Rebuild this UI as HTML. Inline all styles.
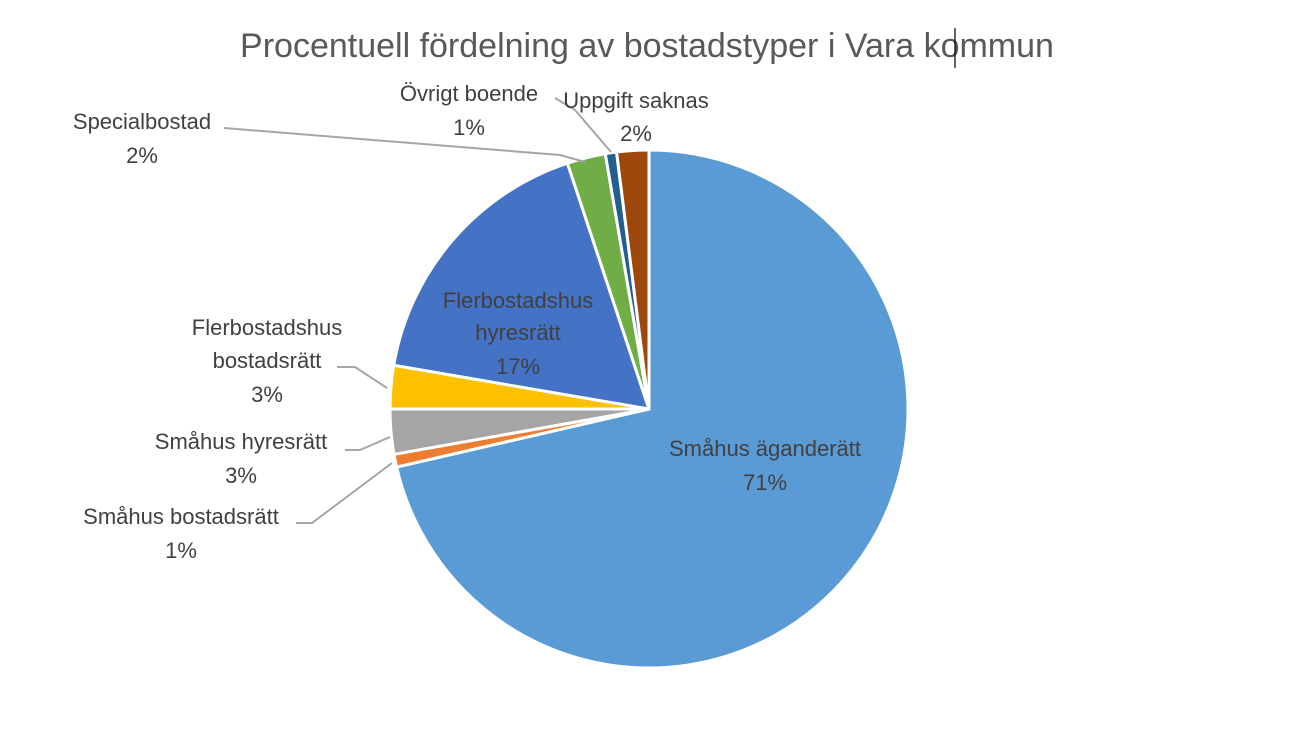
<!DOCTYPE html>
<html><head><meta charset="utf-8"><style>
body{margin:0;background:#fff;}
svg text{font-family:"Liberation Sans",sans-serif;fill:#404040;}
</style></head><body>
<svg width="1296" height="743" viewBox="0 0 1296 743">
<text x="647" y="57" font-size="34" text-anchor="middle" style="fill:#595959">Procentuell fördelning av bostadstyper i Vara kommun</text>
<line x1="955" y1="28" x2="955" y2="68" stroke="#000" stroke-width="1.2"/>
<g id="slices"></g>
<g id="leaders" fill="none" stroke="#A6A6A6" stroke-width="2">
<polyline points="224,128 560,155 585,162"/>
<polyline points="555,98 575,110 611,152"/>
<polyline points="337,367 355,367 387,388"/>
<polyline points="345,450 360,450 390,437"/>
<polyline points="296,523 312,523 392,463"/>
</g>
<g font-size="22" text-anchor="middle" id="labels">
<text><tspan x="765" y="456">Småhus äganderätt</tspan><tspan x="765" y="490">71%</tspan></text>
<text><tspan x="518" y="308">Flerbostadshus</tspan><tspan x="518" y="340">hyresrätt</tspan><tspan x="518" y="374">17%</tspan></text>
<text><tspan x="267" y="335">Flerbostadshus</tspan><tspan x="267" y="368">bostadsrätt</tspan><tspan x="267" y="402">3%</tspan></text>
<text><tspan x="241" y="449">Småhus hyresrätt</tspan><tspan x="241" y="483">3%</tspan></text>
<text><tspan x="181" y="524">Småhus bostadsrätt</tspan><tspan x="181" y="558">1%</tspan></text>
<text><tspan x="142" y="129">Specialbostad</tspan><tspan x="142" y="163">2%</tspan></text>
<text><tspan x="469" y="101">Övrigt boende</tspan><tspan x="469" y="135">1%</tspan></text>
<text><tspan x="636" y="108">Uppgift saknas</tspan><tspan x="636" y="141">2%</tspan></text>
</g>
</svg>
<script>
const categories=["Småhus äganderätt","Småhus bostadsrätt","Småhus hyresrätt","Flerbostadshus bostadsrätt","Flerbostadshus hyresrätt","Specialbostad","Övrigt boende","Uppgift saknas"];
const values=[71.4,0.8,2.8,2.7,17.2,2.4,0.7,2.0];
const colors=["#5B9BD5","#ED7D31","#A5A5A5","#FFC000","#4472C4","#70AD47","#255E91","#9E480E"];
const cx=649,cy=409,r=259;
const g=document.getElementById('slices');
const total=values.reduce((a,b)=>a+b,0);
let acc=0;
function pt(frac){const a=frac*2*Math.PI;return [cx+r*Math.sin(a),cy-r*Math.cos(a)];}
values.forEach((v,i)=>{
  const s=acc/total,e=(acc+v)/total;acc+=v;
  const p1=pt(s),p2=pt(e);const large=(e-s)>0.5?1:0;
  const p=document.createElementNS('http://www.w3.org/2000/svg','path');
  p.setAttribute('d',`M${cx},${cy} L${p1[0]},${p1[1]} A${r},${r} 0 ${large} 1 ${p2[0]},${p2[1]} Z`);
  p.setAttribute('fill',colors[i]);
  p.setAttribute('stroke','#fff');
  p.setAttribute('stroke-width','3');
  p.setAttribute('stroke-linejoin','round');
  
  
  g.appendChild(p);
});
</script>
</body></html>
